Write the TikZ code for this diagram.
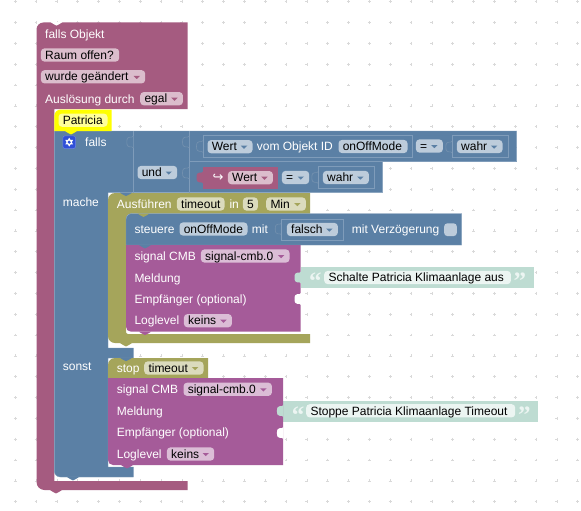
\documentclass[tikz,border=0pt]{standalone}
\usepackage{fontspec}
\setmainfont{Liberation Sans}
\newfontfamily\arrowfont{DejaVu Sans}
\newfontfamily\quotefont{Liberation Serif}
\definecolor{cMaroon}{HTML}{A55B80}
\definecolor{cMaroonF}{HTML}{DBBDCC}
\definecolor{cBlue}{HTML}{5B80A5}
\definecolor{cBlueF}{HTML}{BDCCDB}
\definecolor{cBlueL}{HTML}{7F9CBA}
\definecolor{cBlueS}{HTML}{7491AF}
\definecolor{cOlive}{HTML}{A5A55B}
\definecolor{cOliveF}{HTML}{DBDBBD}
\definecolor{cPurple}{HTML}{A55B99}
\definecolor{cPurpleF}{HTML}{DBBDD6}
\definecolor{cTeal}{HTML}{BEDCD2}
\definecolor{cTealF}{HTML}{ECF5F2}
\definecolor{cYellow}{HTML}{FFFF00}
\definecolor{cYellowF}{HTML}{FFFF99}
\definecolor{cGrid}{HTML}{D9D9D9}
\definecolor{cGear}{HTML}{2F4FD8}
\tikzset{
  lab/.style={anchor=base west,inner sep=0pt,text=white,font=\fontsize{12}{14}\selectfont},
  val/.style={anchor=base west,inner sep=0pt,text=black,font=\fontsize{12}{14}\selectfont},
  qt/.style={anchor=base west,inner sep=0pt,text=cTealF,font=\quotefont\bfseries\fontsize{25}{25}\selectfont},
  fieldbg/.style={anchor=west,inner sep=0pt,rounded corners=3.5pt,minimum height=13.2pt},
  framebox/.style={draw=cBlueL,line width=.6pt,fill=cBlue},
  divider/.style={draw=cBlueL,line width=.6pt},
  sock/.style={fill=cBlue,draw=cBlueS,line width=.6pt},
  gridmark/.style={draw=cGrid,line width=.5pt}
}
% label: name, x, centre y, text
\newcommand{\lbl}[4]{\node[lab] (#1) at (#2,#3+4.2) {#4};}
% field without arrow: name, colour, x1, x2, centre y, text
\newcommand{\fld}[6]{%
  \pgfmathsetmacro{\fw}{#4-#3}%
  \node[fieldbg,fill=#2,minimum width=\fw pt] (#1) at (#3,#5) {};%
  \node[val] (#1t) at (#3+4.3,#5+4.2) {#6};}
% field with drop-down arrow: name, colour, arrow colour, x1, x2, centre y, text
\newcommand{\dd}[7]{%
  \fld{#1}{#2}{#4}{#5}{#6}{#7}%
  \fill[#3] (#5-11.5,#6-1) -- (#5-5,#6-1) -- (#5-8.25,#6+2.2) -- cycle;}
% downward tab: colour, x, y
\newcommand{\tabdown}[3]{\fill[#1] (#2,#3) .. controls (#2+2,#3) and (#2+3,#3+3.4) .. (#2+6,#3+3.4) .. controls (#2+9,#3+3.4) and (#2+10,#3) .. (#2+12,#3) -- cycle;}
% puzzle plug: path options, right x, centre y
\newcommand{\plug}[3]{\path[#1] (#2,#3-6) .. controls (#2-1,#3-3) and (#2-6.5,#3-8) .. (#2-6.5,#3) .. controls (#2-6.5,#3+8) and (#2-1,#3+3) .. (#2,#3+6);}
\begin{document}
\begin{tikzpicture}[x=1pt,y=-1pt]
\useasboundingbox (0,0) rectangle (581,511);
\fill[white] (0,0) rectangle (581,511);
% grid
\foreach \i in {0,...,27} \foreach \j in {0,...,24} {
  \pgfmathsetmacro{\gx}{15.2+20.83*\i}
  \pgfmathsetmacro{\gy}{1.7+20.83*\j}
  \draw[gridmark] (\gx-1.4,\gy) -- (\gx+1.4,\gy) (\gx,\gy-1.4) -- (\gx,\gy+1.4);
}
% outer maroon block
\fill[cMaroon] (36.5,29.5) .. controls (36.5,25.6) and (39.6,22.5) .. (43.5,22.5) -- (187.7,22.5) -- (187.7,109) -- (54.3,109) -- (54.3,481) -- (187.7,481) -- (187.7,490) -- (44.5,490) .. controls (40.1,490) and (36.5,486.4) .. (36.5,482) -- cycle;
\fill[white] (50.5,22) .. controls (52.5,22) and (53.5,25.6) .. (56.5,25.6) .. controls (59.5,25.6) and (60.5,22) .. (62.5,22) -- cycle;
\tabdown{cMaroon}{50}{490}
% blue if block
\path[fill=cBlue,draw=cBlueL,line width=.4pt]
  (54.3,131) -- (516.7,131) -- (516.7,161.3) -- (382.7,161.3) -- (382.7,192.7) -- (108,192.7) -- (108,348) -- (133.3,348) -- (133.3,358) -- (108,358) -- (108,467) -- (133.3,467) -- (133.3,477) -- (60.3,477) .. controls (57,477) and (54.3,474.3) .. (54.3,471) -- cycle;
\tabdown{cBlue}{67}{477}
% dividers
\draw[divider] (133.3,131) -- (133.3,192.7) (189,131) -- (189,192.7) (189,161) -- (516.7,161);
\plug{sock}{133.3}{142}
\plug{sock}{189}{142}
\plug{sock}{189}{173}
% yellow block
\fill[cYellow] (54.3,131) -- (54.3,116) .. controls (54.3,112.4) and (57.2,109.5) .. (60.8,109.5) -- (111.7,109.5) -- (111.7,131) -- cycle;
\tabdown{cYellow}{65}{131}
\fld{pat}{cYellowF}{58.3}{107.3}{120.2}{Patricia}
% maroon header texts
\lbl{h1}{45}{34}{falls Objekt}
\fld{raum}{cMaroonF}{40.7}{119}{55}{Raum offen?}
\dd{wg}{cMaroonF}{cMaroon}{40.7}{145}{76.8}{wurde geändert}
\lbl{h2}{45}{99}{Auslösung durch}
\dd{egal}{cMaroonF}{cMaroon}{140}{182.7}{98.7}{egal}
% gear
\node[fill=cGear,draw=cGear!70!white,line width=.5pt,rounded corners=2pt,minimum size=12.6pt,inner sep=0pt] (gear) at (69.2,142.2) {};
\fill[white] (69.2,137.7) -- (73.1,144.45) -- (65.3,144.45) -- cycle;
\fill[white] (69.2,146.7) -- (73.1,139.95) -- (65.3,139.95) -- cycle;
\fill[cGear] (69.2,142.2) circle (1.7pt);
% blue labels
\lbl{falls}{85}{142}{falls}
\lbl{mache}{62.7}{202.7}{mache}
\lbl{sonst}{62.7}{366.7}{sonst}
\dd{und}{cBlueF}{cBlue}{137.3}{177}{172.5}{und}
% first condition
\plug{sock}{203}{146.5}
\draw[framebox] (203,135) rectangle (412.7,157);
\dd{wert}{cBlueF}{cBlue}{207.3}{252.3}{146.7}{Wert}
\lbl{vom}{256.7}{146.5}{vom Objekt ID}
\fld{oom}{cBlueF}{338.3}{407.3}{146.5}{onOffMode}
\dd{eq}{cBlueF}{cBlue}{415.7}{442.7}{146}{=}
\plug{sock}{452.3}{147}
\draw[framebox] (452.3,135.7) rectangle (508.3,157.3);
\dd{wahr}{cBlueF}{cBlue}{456.7}{502.3}{146.5}{wahr}
% second condition
\plug{fill=cMaroon}{203}{177.5}
\fill[cMaroon] (202.7,166.7) rectangle (278.3,189);
\node[anchor=base west,inner sep=0pt,text=white,font=\arrowfont\fontsize{13}{15}\selectfont] (ret) at (212.3,181.8) {↪};
\dd{wertb}{cMaroonF}{cMaroon}{227.7}{272.7}{177.7}{Wert}
\dd{eqb}{cBlueF}{cBlue}{281.7}{309}{177.5}{=}
\plug{sock}{318.3}{177.5}
\draw[framebox] (318.3,166.7) rectangle (374.3,188.3);
\dd{wahrb}{cBlueF}{cBlue}{322.7}{368.7}{177.5}{wahr}
% olive C block
\fill[cOlive] (108,200) .. controls (108,196.1) and (111.1,193) .. (115,193) -- (310,193) -- (310,213.5) -- (131,213.5) .. controls (128.2,213.5) and (126,215.7) .. (126,218.5) -- (126,332) .. controls (126,333.1) and (126.9,334) .. (128,334) -- (310,334) -- (310,343) -- (115,343) .. controls (111.1,343) and (108,339.9) .. (108,336) -- cycle;
\tabdown{cBlue}{120}{192.7}
\tabdown{cOlive}{120}{343}
\lbl{ausf}{116.7}{204}{Ausführen}
\fld{tm}{cOliveF}{176.7}{224.3}{204}{timeout}
\lbl{inl}{229.3}{204}{in}
\fld{five}{cOliveF}{242.7}{257.7}{204}{5}
\dd{min}{cOliveF}{cOlive}{266}{305.7}{204}{Min}
% steuere
\path[fill=cBlue,draw=cBlueL,line width=.4pt] (126,245) -- (126,219.5) .. controls (126,216.2) and (128.7,213.5) .. (132,213.5) -- (461.7,213.5) -- (461.7,245) -- cycle;
\tabdown{cOlive}{137.5}{213.5}
\lbl{st}{134.3}{229}{steuere}
\fld{oomb}{cBlueF}{179.3}{247.3}{229}{onOffMode}
\lbl{mit}{251.7}{229}{mit}
\plug{sock}{281.7}{229}
\draw[framebox] (281.7,219) rectangle (343.3,240.7);
\dd{fal}{cBlueF}{cBlue}{286.7}{337.7}{229.5}{falsch}
\lbl{mitv}{351.7}{229}{mit Verzögerung}
\node[fill=cBlueF,rounded corners=3pt,minimum size=12.6pt,inner sep=0pt] (chk) at (450.5,229.7) {};
% purple 1
\fill[cTeal] (300.7,266.7) rectangle (533.7,288.3);
\fill[cPurple] (126,245) -- (300.7,245) -- (300.7,331.7) -- (131,331.7) .. controls (128.2,331.7) and (126,329.5) .. (126,326.7) -- cycle;
\tabdown{cBlue}{139}{245}
\tabdown{cPurple}{139}{331.7}
\plug{fill=cTeal}{301}{277.5}
\plug{fill=white}{301}{299}
\lbl{sig}{134.3}{256}{signal CMB}
\dd{sigv}{cPurpleF}{cPurple}{200.7}{289.3}{256}{signal-cmb.0}
\lbl{mel}{134.3}{278}{Meldung}
\lbl{emp}{134.3}{299}{Empfänger (optional)}
\lbl{log}{134.3}{320.7}{Loglevel}
\dd{kei}{cPurpleF}{cPurple}{183.7}{231.7}{320.7}{keins}
% string 1
\fld{str}{cTealF}{324}{510.7}{277.5}{Schalte Patricia Klimaanlage aus}
\node[qt] (q1) at (309,289.5) {“};
\node[qt] (q2) at (513.5,289.5) {”};
% stop block
\fill[cOlive] (108,365) .. controls (108,361.1) and (111.1,358) .. (115,358) -- (208,358) -- (208,378) -- (108,378) -- cycle;
\tabdown{cBlue}{120}{357.8}
\lbl{stop}{116.7}{368}{stop}
\dd{tmb}{cOliveF}{cOlive}{144}{203.3}{368}{timeout}
% purple 2
\fill[cTeal] (283,400.7) rectangle (538,421.7);
\fill[cPurple] (108,378) -- (283,378) -- (283,465) -- (113,465) .. controls (110.2,465) and (108,462.8) .. (108,460) -- cycle;
\tabdown{cPurple}{121}{465}
\plug{fill=cTeal}{283.4}{411}
\plug{fill=white}{283.4}{433}
\lbl{sigb}{116.7}{389.3}{signal CMB}
\dd{sigvb}{cPurpleF}{cPurple}{183.3}{271.7}{389.3}{signal-cmb.0}
\lbl{melb}{116.7}{411}{Meldung}
\lbl{empb}{116.7}{432.7}{Empfänger (optional)}
\lbl{logb}{116.7}{454}{Loglevel}
\dd{keib}{cPurpleF}{cPurple}{166.7}{214}{454}{keins}
% string 2
\fld{strb}{cTealF}{306}{515}{410.8}{Stoppe Patricia Klimaanlage Timeout}
\node[qt] (q3) at (291.7,423) {“};
\node[qt] (q4) at (517.8,423) {”};
\end{tikzpicture}
\end{document}
